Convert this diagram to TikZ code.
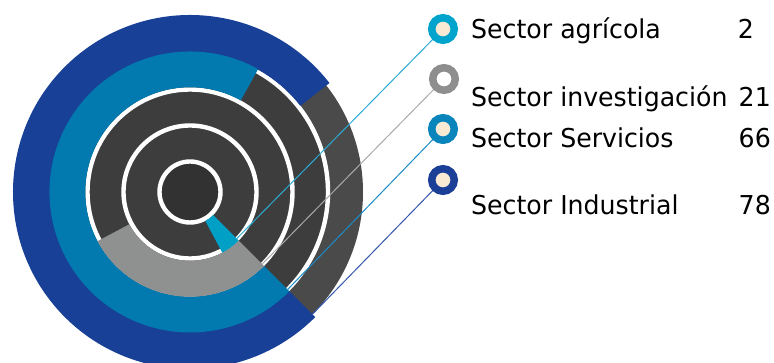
\documentclass[tikz,border=0pt]{standalone}
\usepackage{fontspec}
\setmainfont{DejaVu Sans}[FakeStretch=0.97]
\definecolor{cBlue}{RGB}{23,64,150}
\definecolor{cTeal}{RGB}{2,122,175}
\definecolor{cGray}{RGB}{143,145,144}
\definecolor{cWedge}{RGB}{0,160,198}
\definecolor{cDark}{RGB}{61,61,61}
\definecolor{cOuter}{RGB}{74,74,74}
\definecolor{cCore}{RGB}{50,50,50}
\definecolor{cCream}{RGB}{250,234,212}
\definecolor{mOne}{RGB}{0,163,203}
\definecolor{mTwo}{RGB}{142,142,142}
\definecolor{mThree}{RGB}{10,133,188}
\definecolor{mFour}{RGB}{27,62,151}
\definecolor{lOne}{RGB}{43,170,212}
\definecolor{lTwo}{RGB}{170,170,170}
\definecolor{lThree}{RGB}{28,140,200}
\definecolor{lFour}{RGB}{51,85,170}
\newcommand{\annsec}[5]{\fill[#5] (#3:#2) arc[start angle=#3,end angle=#4,radius=#2] -- (#4:#1) arc[start angle=#4,end angle=#3,radius=#1] -- cycle;}
\tikzset{
  marker/.style={circle, draw=#1, line width=7.5pt, minimum size=22.5pt, inner sep=0pt, fill=cCream},
  lbl/.style={inner sep=0pt, font=\fontsize{26}{30}\selectfont, text=black},
  leader/.style={line width=1pt, draw=#1},
  whiteline/.style={draw=white, line width=4.4pt}
}
\begin{document}
\begin{tikzpicture}[x=1pt,y=1pt]
\useasboundingbox (0,0) rectangle (774,363);
\begin{scope}[shift={(190,171)}]
  \fill[cOuter] (0,0) circle[radius=173];
  \fill[cDark] (0,0) circle[radius=140];
  \fill[cCore] (0,0) circle[radius=29];
  \draw[whiteline] (0,0) circle[radius=30.5];
  \draw[whiteline] (0,0) circle[radius=66.5];
  \draw[whiteline] (0,0) circle[radius=102.5];
  \draw[whiteline] (0,0) circle[radius=138];
  \annsec{140}{177}{38}{315}{cBlue}
  \annsec{104.7}{140.5}{61}{315}{cTeal}
  \annsec{68.7}{104.7}{208}{315}{cGray}
  \annsec{32.7}{68.7}{298}{315}{cWedge}
  \coordinate (e1) at (315:66);
  \coordinate (e2) at (315:102);
  \coordinate (e3) at (315:138);
  \coordinate (e4) at (315:173);
\end{scope}
\coordinate (p1) at (443,334);
\coordinate (p2) at (444,284);
\coordinate (p3) at (443,234);
\coordinate (p4) at (443,183);
\draw[leader=lOne] (e1) -- (p1);
\draw[leader=lTwo] (e2) -- (p2);
\draw[leader=lThree] (e3) -- (p3);
\draw[leader=lFour] (e4) -- (p4);
\node[marker=mOne] (m1) at (p1) {};
\node[marker=mTwo, fill=white] (m2) at (p2) {};
\node[marker=mThree] (m3) at (p3) {};
\node[marker=mFour] (m4) at (p4) {};
\node[lbl, anchor=base west] (t1) at (471,324) {Sector agrícola};
\node[lbl, anchor=base west] (t2) at (471,256.5) {Sector investigación};
\node[lbl, anchor=base west] (t3) at (471,215) {Sector Servicios};
\node[lbl, anchor=base west] (t4) at (471,148) {Sector Industrial};
\node[lbl, anchor=base east] (v1) at (754,324) {2};
\node[lbl, anchor=base east] (v2) at (771,256.5) {21};
\node[lbl, anchor=base east] (v3) at (771,215) {66};
\node[lbl, anchor=base east] (v4) at (771,148) {78};
\end{tikzpicture}
\end{document}
